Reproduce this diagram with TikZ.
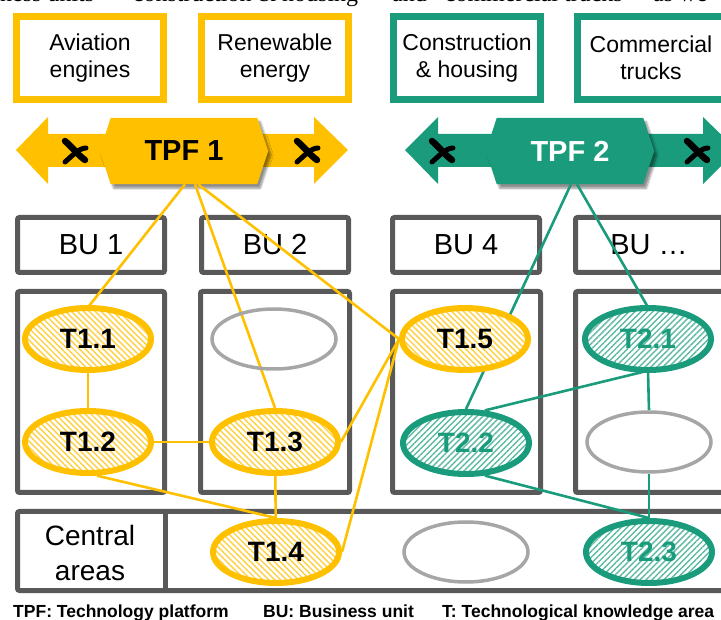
\documentclass[tikz,border=0pt]{standalone}
\usepackage{fontspec}
\setmainfont{Liberation Sans}
\newfontfamily\runningserif{Liberation Serif}
\usetikzlibrary{shapes.geometric,patterns.meta,shadows.blur,calc}

\definecolor{tyellow}{RGB}{255,192,0}
\definecolor{tgreen}{RGB}{26,156,124}
\definecolor{bugray}{RGB}{89,89,89}
\definecolor{emptygray}{RGB}{166,166,166}

\pgfdeclarelayer{front}
\pgfsetlayers{main,front}

\tikzset{
  fieldbox/.style={draw=#1, line width=7pt, fill=white, minimum width=147pt,
    minimum height=83pt, inner sep=0pt, align=center,
    font=\fontsize{23}{27}\selectfont},
  tpflabel/.style={minimum width=146pt, minimum height=66pt, inner sep=0pt,
    font=\bfseries\fontsize{29}{29}\selectfont},
  hexa/.style={fill=#1, blur shadow={shadow xshift=3pt, shadow yshift=-4pt,
    shadow blur steps=6, shadow opacity=45}},
  cutmark/.pic={
    \draw[black, line width=6.5pt, line cap=round]
      (-10,-10) .. controls (-3,-4) and (3,4) .. (10,9);
    \draw[black, line width=5pt, line cap=round]
      (-10,11) .. controls (-3,5) and (4,-3) .. (11,-3);
  },
  bubox/.style={draw=bugray, line width=5pt, rounded corners=2pt, fill=white,
    minimum width=147pt, minimum height=55pt, inner sep=0pt,
    font=\fontsize{29}{29}\selectfont},
  frame/.style={draw=bugray, line width=5pt, rounded corners=2pt},
  tkarea/.style={ellipse, minimum width=126pt, minimum height=62pt, inner sep=0pt,
    line width=6pt, font=\bfseries\fontsize{28}{28}\selectfont},
  tkone/.style={tkarea, draw=tyellow, preaction={fill=white},
    pattern={Lines[angle=-45, distance=4.2pt, line width=1.4pt]},
    pattern color=tyellow!75},
  tktwo/.style={tkarea, draw=tgreen, text=tgreen, preaction={fill=white},
    pattern={Lines[angle=45, distance=4.2pt, line width=1.4pt]},
    pattern color=tgreen!70},
  tkempty/.style={ellipse, minimum width=124pt, minimum height=60pt,
    inner sep=0pt, line width=3.5pt, draw=emptygray},
  linkone/.style={draw=tyellow, line width=2.6pt},
  linktwo/.style={draw=tgreen, line width=2.6pt},
  legend/.style={anchor=base west, inner sep=0pt,
    font=\bfseries\fontsize{17.5}{17.5}\selectfont},
  prose/.style={anchor=base west, inner sep=0pt,
    font=\runningserif\fontsize{24}{24}\selectfont},
}

\begin{document}
\begin{tikzpicture}[x=1pt,y=-1pt]
\useasboundingbox (0,0) rectangle (721,620);
\clip (0,0) rectangle (721,620);

% running text of the page, cut at the top edge
\node[prose] (p1) at (0,1.5) {ness units};
\node[prose] (p2) at (122,1.5) {“construction \& housing”};
\node[prose] (p3) at (392,1.5) {and};
\node[prose] (p4) at (434,1.5) {“commercial trucks”};
\node[prose] (p5) at (653,1.5) {as we};

% fields of business
\node[fieldbox=tyellow] (av) at (90,58) {Aviation\\engines};
\node[fieldbox=tyellow] (re) at (275,58) {Renewable\\energy};
\node[fieldbox=tgreen]  (co) at (467,58) {Construction\\\& housing};
\node[fieldbox=tgreen]  (tr) at (651,58) {Commercial\\trucks};

% technology platform 1
\fill[tyellow] (16,150) -- (48,117) -- (48,134) -- (314,134) -- (314,117)
  -- (348,150) -- (314,184) -- (314,167) -- (48,167) -- (48,184) -- cycle;
\node[tpflabel] (tpf1) at (184,151) {};
\path[hexa=tyellow] (tpf1.north west) -- (tpf1.north east)
  -- ($(tpf1.east)+(11,0)$) -- (tpf1.south east) -- (tpf1.south west)
  -- ($(tpf1.west)+(-11,0)$) -- cycle;
\node[tpflabel] at (tpf1) {TPF 1};
\pic at (75,151) {cutmark};
\pic at (307,151) {cutmark};

% technology platform 2
\fill[tgreen] (405,150) -- (438,117) -- (438,134) -- (703,134) -- (703,117)
  -- (737,150) -- (703,184) -- (703,167) -- (438,167) -- (438,184) -- cycle;
\node[tpflabel] (tpf2) at (570,151) {};
\path[hexa=tgreen] (tpf2.north west) -- (tpf2.north east)
  -- ($(tpf2.east)+(11,0)$) -- (tpf2.south east) -- (tpf2.south west)
  -- ($(tpf2.west)+(-11,0)$) -- cycle;
\node[tpflabel, text=white] at (tpf2) {TPF 2};
\pic at (442,151) {cutmark};
\pic at (697,151) {cutmark};

% business units
\node[bubox] (bu1) at (91,245) {BU 1};
\node[bubox] (bu2) at (275,245) {BU 2};
\node[bubox] (bu4) at (466,245) {BU 4};
\node[bubox] (bux) at (649,245) {BU …};

\draw[frame] (17.5,291.5) rectangle (164.5,492.5);
\draw[frame] (200.5,291.5) rectangle (349.5,492.5);
\draw[frame] (392.5,291.5) rectangle (540.5,492.5);
\draw[frame] (575.5,291.5) rectangle (740,492.5);

% central areas
\draw[frame] (17.5,511.5) rectangle (740,590.5);
\draw[bugray, line width=5pt] (165,511.5) -- (165,590.5);
\node[align=center, inner sep=0pt, font=\fontsize{28}{35}\selectfont]
  (central) at (90,553) {Central\\areas};

% knowledge areas, kept above the links
\begin{pgfonlayer}{front}
\node[tkone] (t11) at (88,339) {T1.1};
\node[tkempty] (e21) at (274,339) {};
\node[tkone] (t15) at (465,339) {T1.5};
\node[tktwo] (t21) at (648,339) {T2.1};
\node[tkone] (t12) at (88,442) {T1.2};
\node[tkone] (t13) at (275,442) {T1.3};
\node[tktwo] (t22) at (466,443) {T2.2};
\node[tkempty] (e22) at (649,442) {};
\node[tkone] (t14) at (276,552) {T1.4};
\node[tkempty] (e31) at (466,552) {};
\node[tktwo] (t23) at (649,552) {T2.3};
\end{pgfonlayer}

% links of platform 1
\draw[linkone] ($(tpf1.south)+(1,0)$) -- (t11.north);
\draw[linkone] ($(tpf1.south)+(11,0)$) -- (t13.north);
\draw[linkone] ($(tpf1.south)+(14,0)$) -- (t15.west);
\draw[linkone] (t11) -- (t12);
\draw[linkone] (t12) -- (t13);
\draw[linkone] (t12.-75) -- (t14.north);
\draw[linkone] (t13) -- (t14);
\draw[linkone] (t13.east) -- (t15.west);
\draw[linkone] (t14.east) -- (t15.west);

% links of platform 2
\draw[linktwo] ($(tpf2.south)+(1,0)$) -- (t22.north);
\draw[linktwo] ($(tpf2.south)+(7,0)$) -- (t21.north);
\draw[linktwo] (t21.south) -- (t22.60);
\draw[linktwo] (t21.south) -- (e22.north);
\draw[linktwo] (e22.south) -- (t23.north);
\draw[linktwo] (t22.-60) -- (t23.north);

% legend
\node[legend] (lg1) at (13,617.5) {TPF: Technology platform};
\node[legend] (lg2) at (263,617.5) {BU: Business unit};
\node[legend] (lg3) at (442,617.5) {T: Technological knowledge area};
\end{tikzpicture}
\end{document}
